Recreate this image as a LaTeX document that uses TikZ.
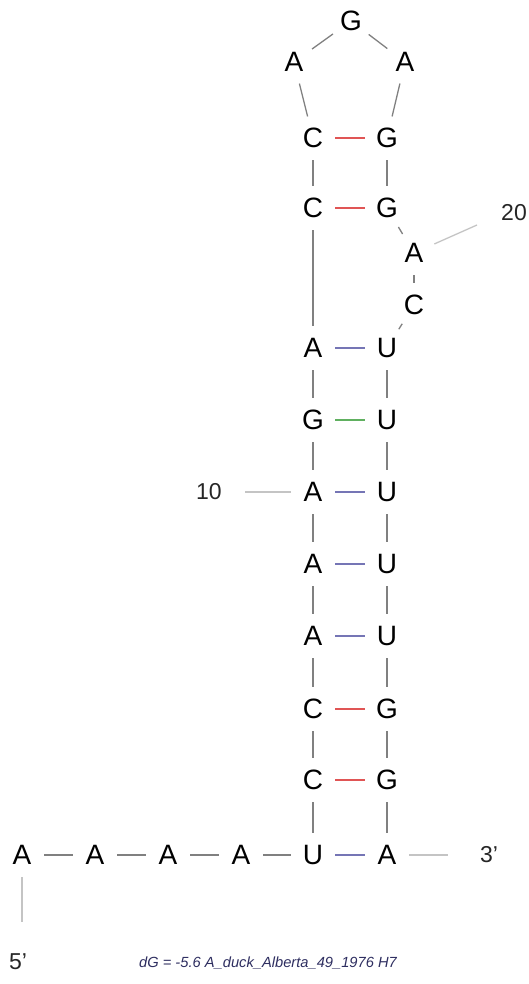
\documentclass[tikz,border=0pt]{standalone}
\usepackage{fontspec}
\setmainfont{Liberation Sans}
\definecolor{bb}{HTML}{808080}
\definecolor{lb}{HTML}{C4C4C4}
\definecolor{pr}{HTML}{E05555}
\definecolor{pb}{HTML}{7575B5}
\definecolor{pg}{HTML}{60B060}
\definecolor{cap}{HTML}{2E2E60}
\begin{document}
\begin{tikzpicture}[x=1pt,y=-1pt,
  nt/.style={circle,minimum size=44pt,inner sep=0pt,font=\fontsize{28}{28}\selectfont},
  num/.style={inner sep=0pt,text=black!85,font=\fontsize{23}{23}\selectfont},
  bk/.style={draw=bb,line width=1.3pt},
  lk/.style={draw=lb,line width=1.3pt},
  rp/.style={draw=pr,line width=1.5pt},
  bp/.style={draw=pb,line width=1.5pt},
  gp/.style={draw=pg,line width=1.5pt}]
\useasboundingbox (0,0) rectangle (528,984);
% loop
\node[nt] (g0) at (351,21) {G};
\node[nt] (aL) at (294,62) {A};
\node[nt] (aR) at (405,62) {A};
% stem top
\node[nt] (c1) at (313,138) {C};
\node[nt] (g1) at (387,138) {G};
\node[nt] (c2) at (313,208) {C};
\node[nt] (g2) at (387,208) {G};
\node[nt] (a20) at (414,253) {A};
\node[nt] (cb) at (414,305) {C};
% stem
\node[nt] (l1) at (313,348) {A}; \node[nt] (r1) at (387,348) {U};
\node[nt] (l2) at (313,420) {G}; \node[nt] (r2) at (387,420) {U};
\node[nt] (l3) at (313,492) {A}; \node[nt] (r3) at (387,492) {U};
\node[nt] (l4) at (313,564) {A}; \node[nt] (r4) at (387,564) {U};
\node[nt] (l5) at (313,636) {A}; \node[nt] (r5) at (387,636) {U};
\node[nt] (l6) at (313,709) {C}; \node[nt] (r6) at (387,709) {G};
\node[nt] (l7) at (313,780) {C}; \node[nt] (r7) at (387,780) {G};
% bottom row
\node[nt] (b1) at (22,855) {A};
\node[nt] (b2) at (95,855) {A};
\node[nt] (b3) at (168,855) {A};
\node[nt] (b4) at (241,855) {A};
\node[nt] (b5) at (313,855) {U};
\node[nt] (b6) at (387,855) {A};
% labels
\node[num] (n20) at (514,213) {20};
\node[num] (n10) at (209,492) {10};
\node[num] (n3) at (489,855) {3’};
\node[num] (n5) at (18,962) {5’};
\node[inner sep=0pt,text=cap,font=\fontsize{14.7}{14.7}\selectfont\itshape] (capt) at (268,963) {dG = -5.6 A\_duck\_Alberta\_49\_1976 H7};
\coordinate (e20) at (477,225);
\coordinate (e10) at (245,492);
\coordinate (e3) at (448,855);
\coordinate (e5) at (22,922);
% backbone
\draw[bk] (g0) -- (aL); \draw[bk] (g0) -- (aR);
\draw[bk] (aL) -- (c1); \draw[bk] (aR) -- (g1);
\draw[bk] (c1) -- (c2); \draw[bk] (g1) -- (g2);
\draw[bk] (g2) -- (a20); \draw[bk] (a20) -- (cb); \draw[bk] (cb) -- (r1);
\draw[bk] (c2) -- (l1);
\draw[bk] (l1) -- (l2) (l2) -- (l3) (l3) -- (l4) (l4) -- (l5) (l5) -- (l6) (l6) -- (l7) (l7) -- (b5);
\draw[bk] (r1) -- (r2) (r2) -- (r3) (r3) -- (r4) (r4) -- (r5) (r5) -- (r6) (r6) -- (r7) (r7) -- (b6);
\draw[bk] (b1) -- (b2) (b2) -- (b3) (b3) -- (b4) (b4) -- (b5);
% pairs
\draw[rp] (c1) -- (g1); \draw[rp] (c2) -- (g2);
\draw[bp] (l1) -- (r1); \draw[gp] (l2) -- (r2);
\draw[bp] (l3) -- (r3); \draw[bp] (l4) -- (r4); \draw[bp] (l5) -- (r5);
\draw[rp] (l6) -- (r6); \draw[rp] (l7) -- (r7);
\draw[bp] (b5) -- (b6);
% label lines
\draw[lk] (a20) -- (e20);
\draw[lk] (e10) -- (l3);
\draw[lk] (b6) -- (e3);
\draw[lk] (b1) -- (e5);
\end{tikzpicture}
\end{document}
